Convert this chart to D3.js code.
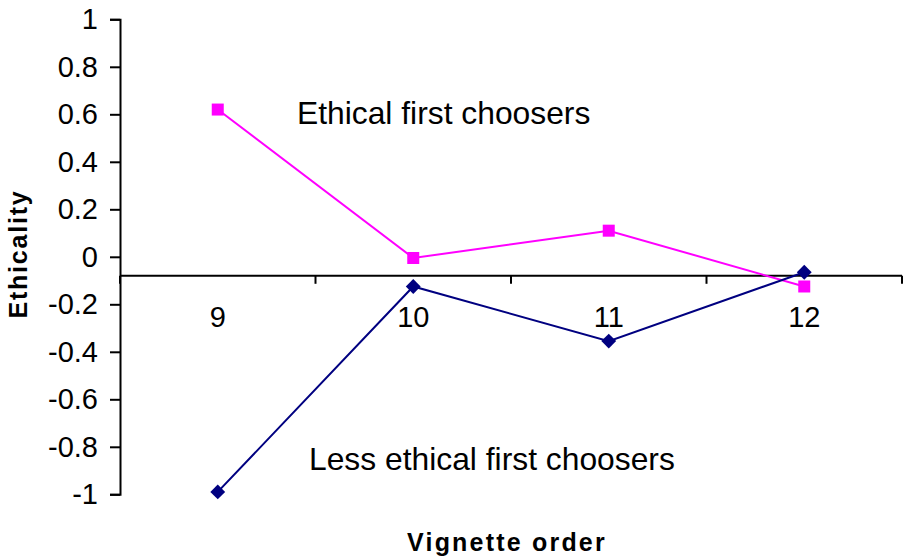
<!DOCTYPE html>
<html>
<head>
<meta charset="utf-8">
<script src="https://cdn.jsdelivr.net/npm/d3@7"></script>
<style>
  body { margin: 0; background: #fff; }
  svg { font-family: Arial, "Liberation Sans", sans-serif; }
</style>
</head>
<body>
<svg id="chart" width="907" height="560"></svg>
<script>
// vignette order categories
const categories = ["9", "10", "11", "12"];
const ethicalFirst = [0.62, -0.005, 0.11, -0.125];
const lessEthicalFirst = [-0.99, -0.125, -0.355, -0.065];
const yTicks = [1, 0.8, 0.6, 0.4, 0.2, 0, -0.2, -0.4, -0.6, -0.8, -1];
const crossAt = -0.08; // horizontal axis crosses here

const svg = d3.select("#chart");
const plotLeft = 120, plotRight = 902, plotTop = 19.3, plotBottom = 494.3;

const x = d3.scaleBand().domain(categories).range([plotLeft, plotRight]).padding(0);
const y = d3.scaleLinear().domain([-1, 1]).range([plotBottom, plotTop]);

// y axis
const yAxis = d3.axisLeft(y).tickValues(yTicks).tickSize(10).tickPadding(12)
  .tickFormat(d => String(+d.toFixed(1)));
const gy = svg.append("g").attr("transform", `translate(${plotLeft},0)`).call(yAxis);
gy.select(".domain").attr("stroke", "#000").attr("stroke-width", 2);
gy.selectAll(".tick line").attr("stroke", "#000").attr("stroke-width", 2);
gy.selectAll("text").attr("font-size", 29).attr("fill", "#000")
  .attr("font-family", "Arial, 'Liberation Sans', sans-serif");

// x axis at crossAt
const yc = y(crossAt);
const xAxis = d3.axisBottom(x).tickSize(0).tickPadding(0);
const gx = svg.append("g").attr("transform", `translate(0,${yc})`).call(xAxis);
gx.select(".domain").remove();
gx.selectAll("text").attr("font-size", 29).attr("fill", "#000").attr("y", 51).attr("dy", 0)
  .attr("font-family", "Arial, 'Liberation Sans', sans-serif");
gx.append("line").attr("x1", plotLeft).attr("x2", plotRight).attr("stroke", "#000").attr("stroke-width", 2);
const edges = categories.map(c => x(c)).concat([x(categories[categories.length - 1]) + x.bandwidth()]);
gx.selectAll(".edge").data(edges).enter().append("line")
  .attr("x1", d => d).attr("x2", d => d).attr("y1", 0).attr("y2", 8)
  .attr("stroke", "#000").attr("stroke-width", 2);

const cx = c => x(c) + x.bandwidth() / 2;
const line = d3.line().x((d, i) => cx(categories[i])).y(d => y(d));

// ethical first choosers (pink squares)
svg.append("path").datum(ethicalFirst).attr("d", line)
  .attr("fill", "none").attr("stroke", "#ff00ff").attr("stroke-width", 2);
svg.selectAll(".sq").data(ethicalFirst).enter().append("rect")
  .attr("x", (d, i) => cx(categories[i]) - 6).attr("y", d => y(d) - 6)
  .attr("width", 12).attr("height", 12).attr("fill", "#ff00ff");

// less ethical first choosers (navy diamonds)
svg.append("path").datum(lessEthicalFirst).attr("d", line)
  .attr("fill", "none").attr("stroke", "#000080").attr("stroke-width", 2);
svg.selectAll(".dm").data(lessEthicalFirst).enter().append("path")
  .attr("d", d3.symbol().type(d3.symbolDiamond2).size(140))
  .attr("transform", (d, i) => `translate(${cx(categories[i])},${y(d)})`)
  .attr("fill", "#000080");

// series annotations
svg.append("text").attr("x", 297).attr("y", 124).attr("font-size", 31.8).text("Ethical first choosers");
svg.append("text").attr("x", 309).attr("y", 470).attr("font-size", 31.8).text("Less ethical first choosers");

// axis titles
svg.append("text").attr("x", 507).attr("y", 551).attr("text-anchor", "middle")
  .attr("font-size", 25).attr("font-weight", "bold").attr("letter-spacing", 2.2).text("Vignette order");
svg.append("text").attr("transform", "translate(27,254) rotate(-90)").attr("text-anchor", "middle")
  .attr("font-size", 25).attr("font-weight", "bold").attr("letter-spacing", 1.8).text("Ethicality");
</script>
</body>
</html>
